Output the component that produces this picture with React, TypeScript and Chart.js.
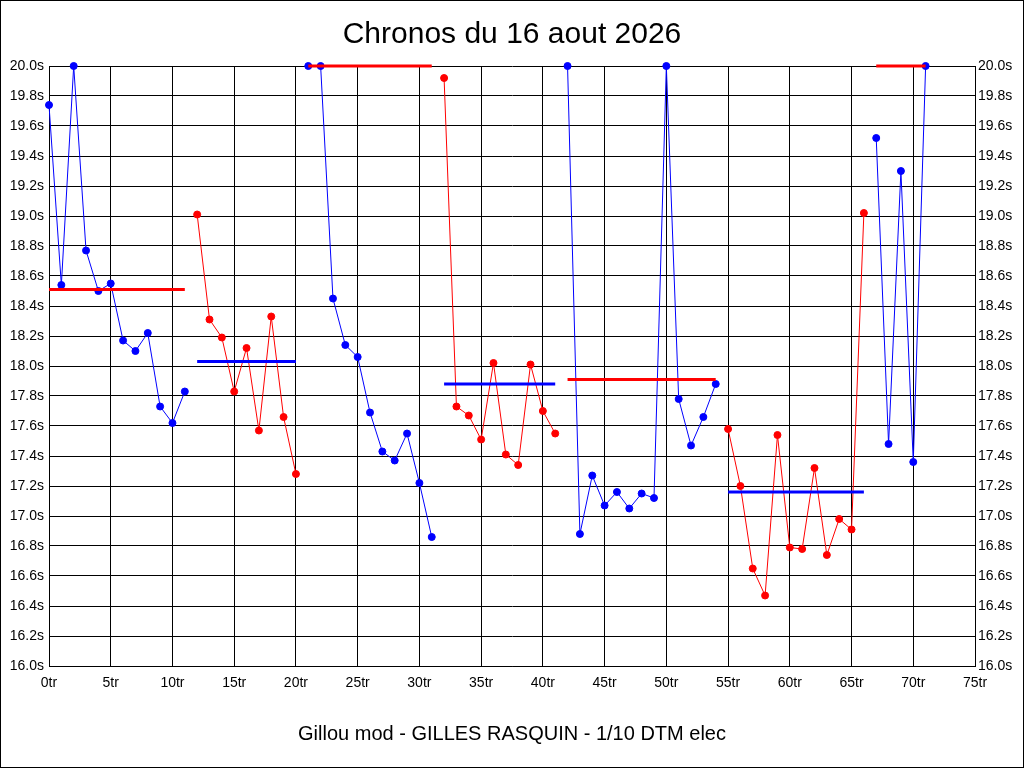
import { useEffect, useRef } from "react";
import { Chart, registerables } from "chart.js";

Chart.register(...registerables);

// lap times in seconds, lap 0 .. 71
const lapTimes = [
  19.74, 18.54, 20.0, 18.77, 18.5, 18.55, 18.17, 18.1, 18.22, 17.73, 17.62, 17.83,
  19.01, 18.31, 18.19, 17.83, 18.12, 17.57, 18.33, 17.66, 17.28,
  20.0, 20.0, 18.45, 18.14, 18.06, 17.69, 17.43, 17.37, 17.55, 17.22, 16.86,
  19.92, 17.73, 17.67, 17.51, 18.02, 17.41, 17.34, 18.01, 17.7, 17.55,
  20.0, 16.88, 17.27, 17.07, 17.16, 17.05, 17.15, 17.12, 20.0, 17.78, 17.47, 17.66, 17.88,
  17.58, 17.2, 16.65, 16.47, 17.54, 16.79, 16.78, 17.32, 16.74, 16.98, 16.91, 19.02,
  19.52, 17.48, 19.3, 17.36, 20.0,
];

// runs (battery packs): first lap, last lap, mean time
const runStart = [0, 12, 21, 32, 42, 55, 67];
const runEnd = [11, 20, 31, 41, 54, 66, 71];
const runMean = [18.51, 18.03, 20.0, 17.88, 17.91, 17.16, 20.0];
const runColor = ["#0000ff", "#ff0000", "#0000ff", "#ff0000", "#0000ff", "#ff0000", "#0000ff"];
const meanColor = ["#ff0000", "#0000ff", "#ff0000", "#0000ff", "#ff0000", "#0000ff", "#ff0000"];

const titleText = "Chronos du 16 aout 2026";
const footerText = "Gillou mod - GILLES RASQUIN - 1/10 DTM elec";

const FONT = "'Liberation Sans', Arial, sans-serif";

// outer black frame
const framePlugin = {
  id: "frame",
  afterDraw(chart: any) {
    const ctx = chart.ctx;
    ctx.save();
    ctx.strokeStyle = "#000";
    ctx.lineWidth = 1;
    ctx.strokeRect(0.5, 0.5, chart.width - 1, chart.height - 1);
    ctx.restore();
  },
};

const App = () => {
  const canvasRef = useRef<HTMLCanvasElement>(null);
  const chartRef = useRef<Chart>();

  useEffect(() => {
    if (!canvasRef.current) return;
    document.body.style.margin = "0";

    const datasets: any[] = [];
    runStart.forEach((start, i) => {
      const pts: { x: number; y: number }[] = [];
      for (let lap = start; lap <= runEnd[i]; lap++) {
        pts.push({ x: lap, y: lapTimes[lap] });
      }
      datasets.push({
        data: pts,
        borderColor: runColor[i],
        backgroundColor: runColor[i],
        borderWidth: 1,
        pointRadius: 3.5,
        pointBorderWidth: 1,
        pointBackgroundColor: runColor[i],
        pointBorderColor: runColor[i],
        clip: false,
        order: 2,
      });
    });
    runStart.forEach((start, i) => {
      datasets.push({
        data: [
          { x: start, y: runMean[i] },
          { x: runEnd[i], y: runMean[i] },
        ],
        borderColor: meanColor[i],
        backgroundColor: meanColor[i],
        borderWidth: 3,
        pointRadius: 0,
        clip: false,
        order: 1,
      });
    });

    if (chartRef.current) chartRef.current.destroy();

    chartRef.current = new Chart(canvasRef.current, {
      type: "line",
      data: { datasets },
      plugins: [framePlugin],
      options: {
        animation: false,
        responsive: false,
        layout: { padding: 0 },
        plugins: {
          legend: { display: false },
          tooltip: { enabled: false },
          title: {
            display: true,
            text: titleText,
            color: "#000",
            font: { family: FONT, size: 30, weight: "normal" },
            padding: { top: 17, bottom: 13 },
          },
        },
        scales: {
          x: {
            type: "linear",
            min: 0,
            max: 75,
            afterFit: (s: any) => {
              s.height = 102;
            },
            ticks: {
              stepSize: 5,
              autoSkip: false,
              maxRotation: 0,
              padding: 9,
              color: "#000",
              font: { family: "'Liberation Sans Narrow', " + FONT, size: 14 },
              callback: (v: any) => v + "tr",
            },
            grid: { color: "#000", lineWidth: 1, drawTicks: false },
            border: { color: "#000" },
            title: {
              display: true,
              text: footerText,
              color: "#000",
              font: { family: FONT, size: 20 },
              padding: { top: 0, bottom: 22 },
            },
          },
          y: {
            type: "linear",
            position: "left",
            min: 16,
            max: 20,
            afterFit: (s: any) => {
              s.width = 49;
            },
            ticks: {
              stepSize: 0.2,
              autoSkip: false,
              padding: 5,
              color: "#000",
              font: { family: FONT, size: 14 },
              callback: (v: any) => Number(v).toFixed(1) + "s",
            },
            grid: { color: "#000", lineWidth: 1, drawTicks: false },
            border: { color: "#000" },
          },
          y2: {
            type: "linear",
            position: "right",
            min: 16,
            max: 20,
            afterFit: (s: any) => {
              s.width = 49;
            },
            ticks: {
              stepSize: 0.2,
              autoSkip: false,
              padding: 3,
              color: "#000",
              font: { family: FONT, size: 14 },
              callback: (v: any) => Number(v).toFixed(1) + "s",
            },
            grid: { drawOnChartArea: false, drawTicks: false },
            border: { color: "#000" },
          },
        },
      },
    });

    return () => {
      if (chartRef.current) {
        chartRef.current.destroy();
        chartRef.current = undefined;
      }
    };
  }, []);

  return (
    <div style={{ width: 1024, height: 768, background: "#fff" }}>
      <canvas ref={canvasRef} width={1024} height={768}></canvas>
    </div>
  );
};

export default App;
